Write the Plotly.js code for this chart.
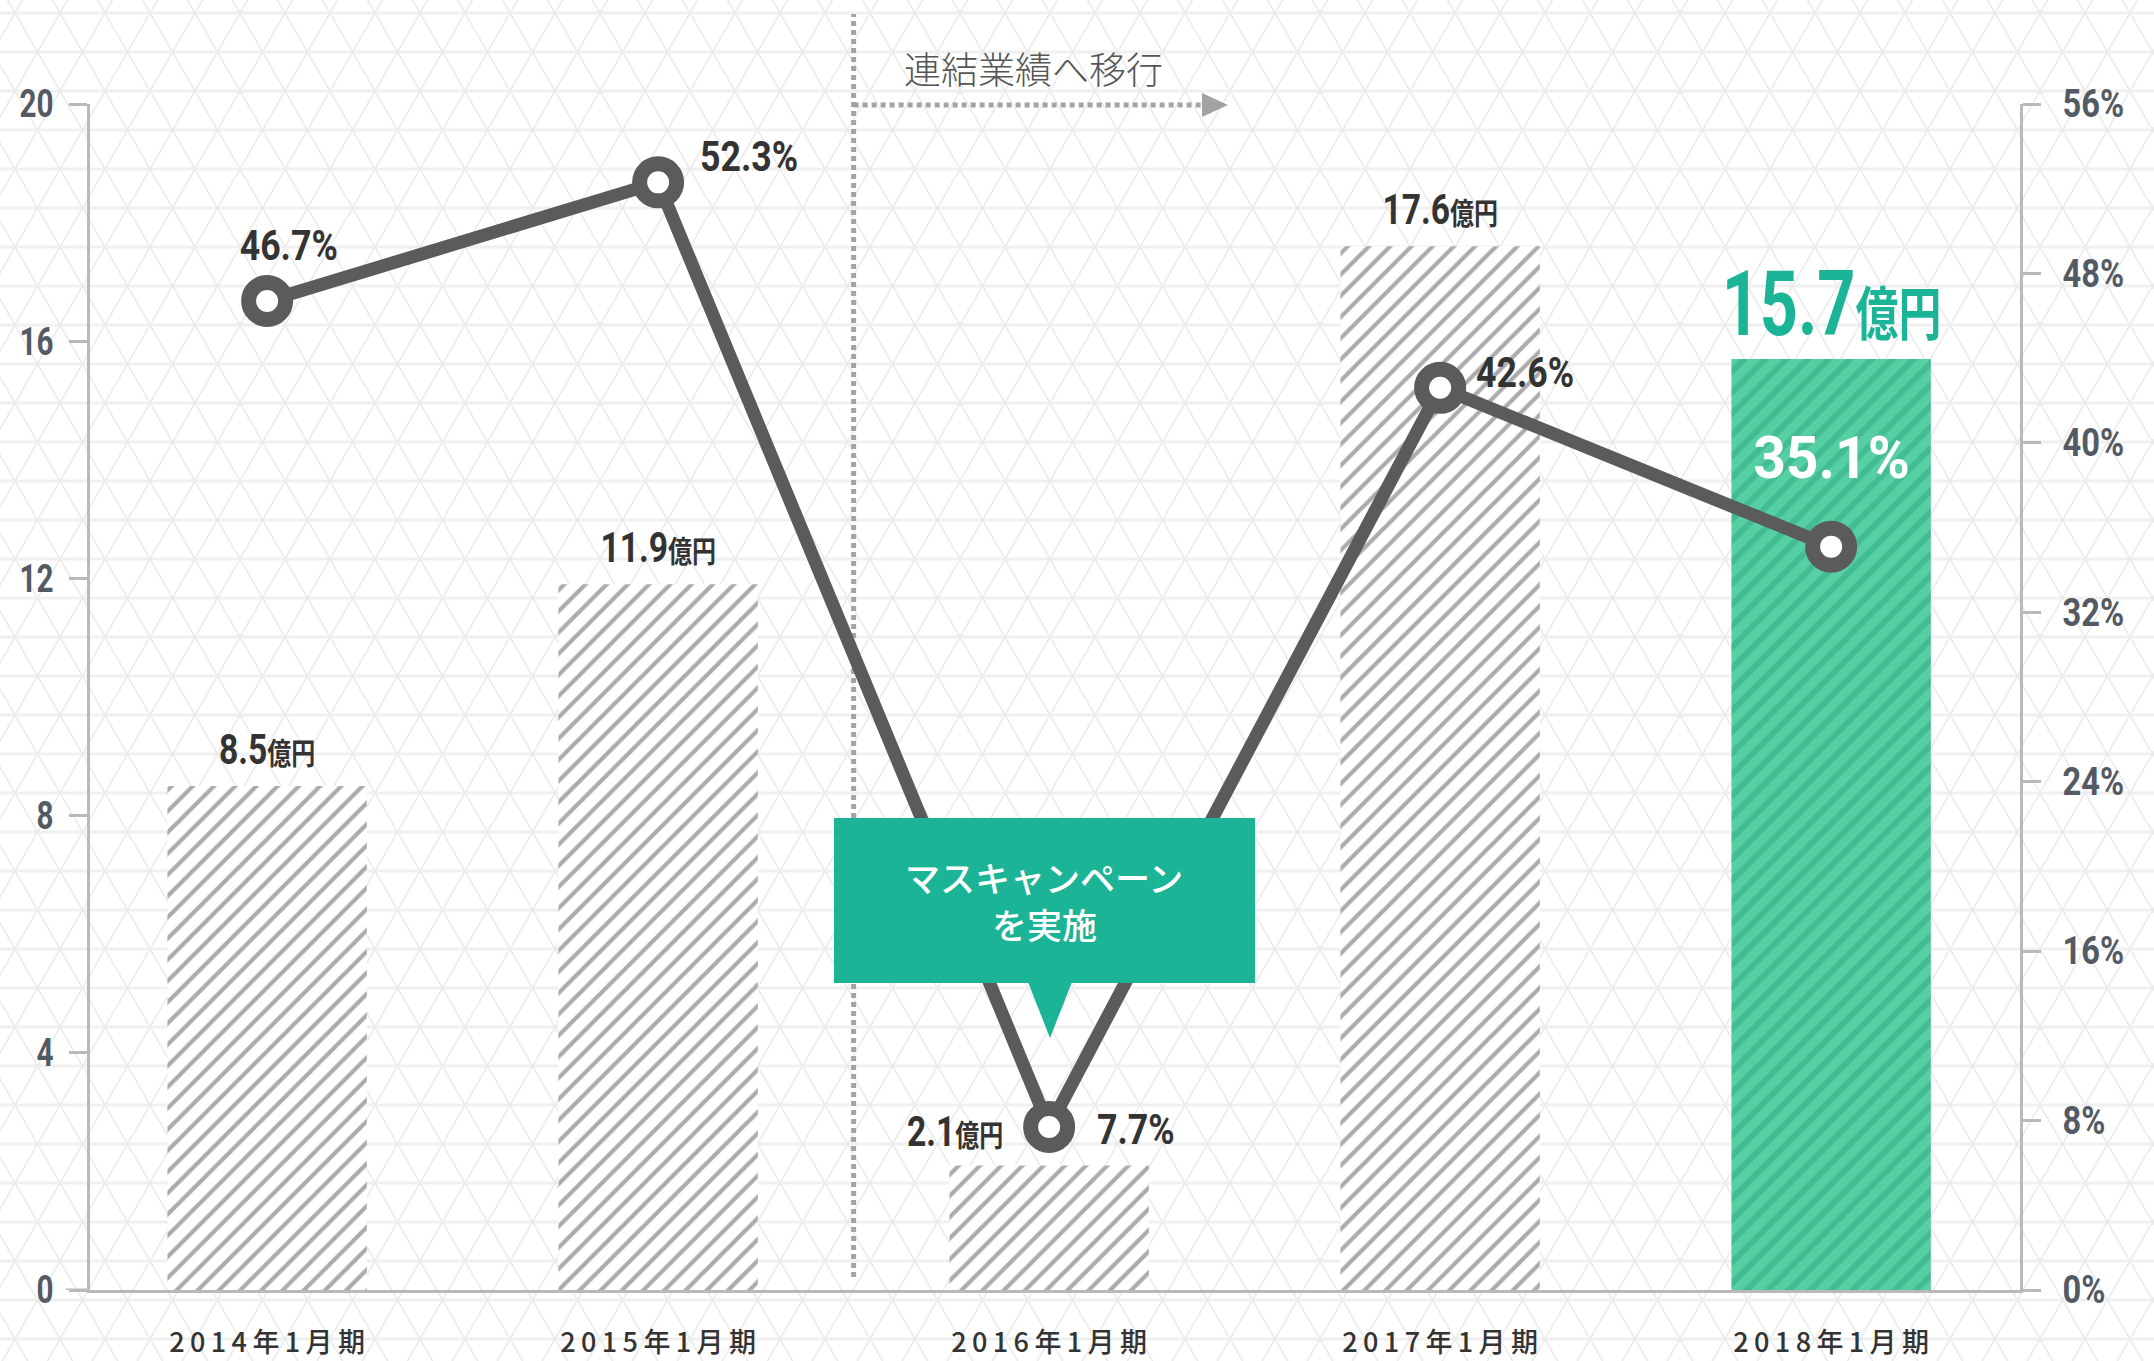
<!DOCTYPE html>
<html>
<head>
<meta charset="utf-8">
<script src="https://cdn.plot.ly/plotly-3.0.1.min.js"></script>
<style>
html,body{margin:0;padding:0;}
body{
  width:2154px;height:1361px;overflow:hidden;background-color:#ffffff;
  background-image:url("data:image/svg+xml;utf8,<svg xmlns='http://www.w3.org/2000/svg' width='45' height='78'><g fill='none'><path d='M0 0H45M0 39H45M0 78H45' stroke='%23f0f0f0' stroke-width='3'/><path d='M0 0L45 78M45 0L0 78' stroke='%23eaeaea' stroke-width='1.5'/></g></svg>");
  background-size:45px 78px;
  background-position:15px 13px;
}
#chart{width:2154px;height:1361px;}
</style>
</head>
<body>
<div id="chart"></div>
<script>
// ---- data ----
const categories = ['2014年1月期', '2015年1月期', '2016年1月期', '2017年1月期', '2018年1月期'];
const salesOku   = [8.5, 11.9, 2.1, 17.6, 15.7];      // 売上（億円）
const ratioPct   = [46.7, 52.3, 7.7, 42.6, 35.1];     // 比率（%）
const leftTicks  = [0, 4, 8, 12, 16, 20];
const rightTicks = [0, 8, 16, 24, 32, 40, 48, 56];
const calloutLines = ['マスキャンペーン', 'を実施'];
const shiftText    = '連結業績へ移行';
const unitText     = '億円';

// ---- styles ----
const NUM_FONT = 'Roboto, Noto Sans CJK JP, sans-serif';
const JP_FONT  = 'Noto Sans CJK JP, Noto Sans, sans-serif';
const GREEN = '#1cb496';
const LINE = '#5b5b5d';
const AXIS = '#b9b9b9';

const W = 2154, H = 1361;
const M = {l: 90, r: 134, t: 104, b: 71};
const PW = W - M.l - M.r, PH = H - M.t - M.b;
const px2x = p => (p - M.l) / PW;
const px2y = p => (H - M.b - p) / PH;
const spaced = s => s.split('').join('\u2009');

const lastIdx = categories.length - 1;
const isGray = (v, i) => i !== lastIdx;
const isHi = (v, i) => i === lastIdx;

const grayBars = {
  type: 'bar', x: categories.filter(isGray), y: salesOku.filter(isGray), yaxis: 'y', width: 0.51,
  marker: {
    color: 'rgba(255,255,255,0.95)', line: {width: 0},
    pattern: {shape: '/', size: 15, solidity: 0.28, fgcolor: '#585858', bgcolor: 'rgba(255,255,255,0.95)', fillmode: 'overlay'}
  },
  hoverinfo: 'skip', showlegend: false
};
const hiBars = {
  type: 'bar', x: categories.filter(isHi), y: salesOku.filter(isHi), yaxis: 'y', width: 0.51,
  marker: {
    color: '#56cfa3', line: {width: 0},
    pattern: {shape: '/', size: 15, solidity: 0.4, fgcolor: '#30aa84', bgcolor: '#56cfa3', fillmode: 'overlay'}
  },
  hoverinfo: 'skip', showlegend: false
};

const lineTrace = {
  type: 'scatter', mode: 'lines+markers', x: categories, y: ratioPct, yaxis: 'y2',
  line: {color: LINE, width: 13},
  marker: {size: 37, color: '#ffffff', line: {color: LINE, width: 15}},
  hoverinfo: 'skip', showlegend: false, cliponaxis: false
};

// ---- annotations ----
const annotations = [];
const condenseMap = {};   // annotation index -> horizontal scale
const ratioLabelPos = [
  {xanchor: 'center', xshift: 22, yshift: 55},
  {xanchor: 'left', xshift: 40, yshift: 26},
  {xanchor: 'left', xshift: 46, yshift: -3},
  {xanchor: 'left', xshift: 34, yshift: 15},
  {xanchor: 'center', xshift: 0, yshift: 89}
];
ratioPct.forEach((v, i) => {
  const last = i === lastIdx;
  condenseMap[annotations.length] = last ? 0.95 : 0.85;
  annotations.push(Object.assign({
    x: categories[i], y: v, xref: 'x', yref: 'y2', yanchor: 'middle',
    text: v.toFixed(1) + '%', showarrow: false,
    font: {family: NUM_FONT, size: last ? 60 : 42, color: last ? '#ffffff' : '#333333', weight: 'bold'}
  }, ratioLabelPos[i]));
});
salesOku.forEach((v, i) => {
  const last = i === lastIdx;
  const low = i === 2;
  condenseMap[annotations.length] = last ? 0.74 : 0.8;
  annotations.push({
    x: categories[i], y: v, xref: 'x', yref: 'y', showarrow: false,
    xanchor: low ? 'right' : 'center', yanchor: low ? 'middle' : 'bottom',
    xshift: low ? -44 : 0, yshift: low ? 34 : (last ? 0 : 10),
    font: {family: NUM_FONT, size: last ? 90 : 42, color: last ? GREEN : '#333333', weight: 'bold'},
    text: v.toFixed(1) + '<span style="font-size:' + (last ? 58 : 30) + 'px;font-family:Noto Sans CJK JP">' + unitText + '</span>'
  });
});
calloutLines.forEach((t, k) => {
  annotations.push({
    x: px2x(1044), y: px2y(876 + 47 * k), xref: 'paper', yref: 'paper', showarrow: false,
    xanchor: 'center', yanchor: 'middle', text: t,
    font: {family: JP_FONT, size: 35, color: '#ffffff', weight: 500}
  });
});
annotations.push({
  x: px2x(1033), y: px2y(68), xref: 'paper', yref: 'paper', showarrow: false,
  xanchor: 'center', yanchor: 'middle', text: shiftText,
  font: {family: JP_FONT, size: 37, color: '#555555', weight: 300}
});

// ---- shapes ----
const shapes = [
  {type: 'line', xref: 'x', yref: 'paper', x0: 1.5, x1: 1.5, y0: px2y(1277), y1: px2y(14),
   line: {color: '#a3a3a3', width: 5, dash: '5px,4px'}, layer: 'below'},
  {type: 'line', xref: 'x', yref: 'paper', x0: 1.5, x1: 2.39, y0: px2y(105), y1: px2y(105),
   line: {color: '#a3a3a3', width: 5, dash: '5px,4px'}, layer: 'below'},
  {type: 'path', xref: 'paper', yref: 'paper',
   path: `M${px2x(1202)},${px2y(93)} L${px2x(1228)},${px2y(105)} L${px2x(1202)},${px2y(117)} Z`,
   fillcolor: '#a3a3a3', line: {width: 0}, layer: 'below'},
  // baseline extension to the left of the y axis
  {type: 'line', xref: 'paper', yref: 'y', x0: px2x(66), x1: 0, y0: 0, y1: 0,
   line: {color: AXIS, width: 3}, layer: 'above'},
  {type: 'rect', xref: 'paper', yref: 'paper', x0: px2x(834), x1: px2x(1255), y0: px2y(983), y1: px2y(818),
   fillcolor: GREEN, line: {width: 0}, layer: 'above'},
  {type: 'path', xref: 'paper', yref: 'paper',
   path: `M${px2x(1028)},${px2y(982)} L${px2x(1072)},${px2y(982)} L${px2x(1050)},${px2y(1038)} Z`,
   fillcolor: GREEN, line: {width: 0}, layer: 'above'}
];

const tickFont = {family: NUM_FONT, size: 38, color: '#545a63', weight: 'bold'};
const layout = {
  width: W, height: H, margin: M,
  paper_bgcolor: 'rgba(0,0,0,0)', plot_bgcolor: 'rgba(0,0,0,0)',
  showlegend: false, barmode: 'overlay',
  xaxis: {
    type: 'category', range: [-0.453, 4.483], fixedrange: true,
    showline: true, linecolor: AXIS, linewidth: 3, ticks: '', showgrid: false, zeroline: false,
    tickvals: categories, ticktext: categories.map(spaced),
    tickfont: {family: JP_FONT, size: 27, color: '#333333', weight: 500},
    ticklabelstandoff: 27
  },
  yaxis: {
    range: [0, 20], tickvals: leftTicks, ticktext: leftTicks.map(String),
    showgrid: false, zeroline: false,
    showline: true, linecolor: AXIS, linewidth: 3,
    ticks: 'outside', ticklen: 18, tickwidth: 3, tickcolor: AXIS,
    tickfont: tickFont, ticklabelstandoff: 8
  },
  yaxis2: {
    range: [0, 56], overlaying: 'y', side: 'right', tickvals: rightTicks, ticktext: rightTicks.map(v => v + '%'),
    showgrid: false, zeroline: false,
    showline: true, linecolor: AXIS, linewidth: 3,
    ticks: 'outside', ticklen: 18, tickwidth: 3, tickcolor: AXIS,
    tickfont: tickFont, ticklabelstandoff: 14
  },
  annotations: annotations,
  shapes: shapes
};

// horizontally condense a text element about an anchor ('left'|'center'|'right')
function condense(el, s, anchor) {
  const bb = el.getBBox();
  const ax = anchor === 'left' ? bb.x : anchor === 'right' ? bb.x + bb.width : bb.x + bb.width / 2;
  const prev = el.getAttribute('transform') || '';
  el.setAttribute('transform', prev + ` translate(${ax},0) scale(${s},1) translate(${-ax},0)`);
}

Plotly.newPlot('chart', [grayBars, hiBars, lineTrace], layout, {staticPlot: true, displayModeBar: false}).then(gd => {
  Object.keys(condenseMap).forEach(k => {
    const el = gd.querySelector(`.annotation[data-index="${k}"] text.annotation-text`);
    if (el) condense(el, condenseMap[k], annotations[k].xanchor);
  });
  gd.querySelectorAll('.ytick text').forEach(el => condense(el, 0.78, 'right'));
  gd.querySelectorAll('.y2tick text').forEach(el => condense(el, 0.86, 'left'));
});
</script>
</body>
</html>
